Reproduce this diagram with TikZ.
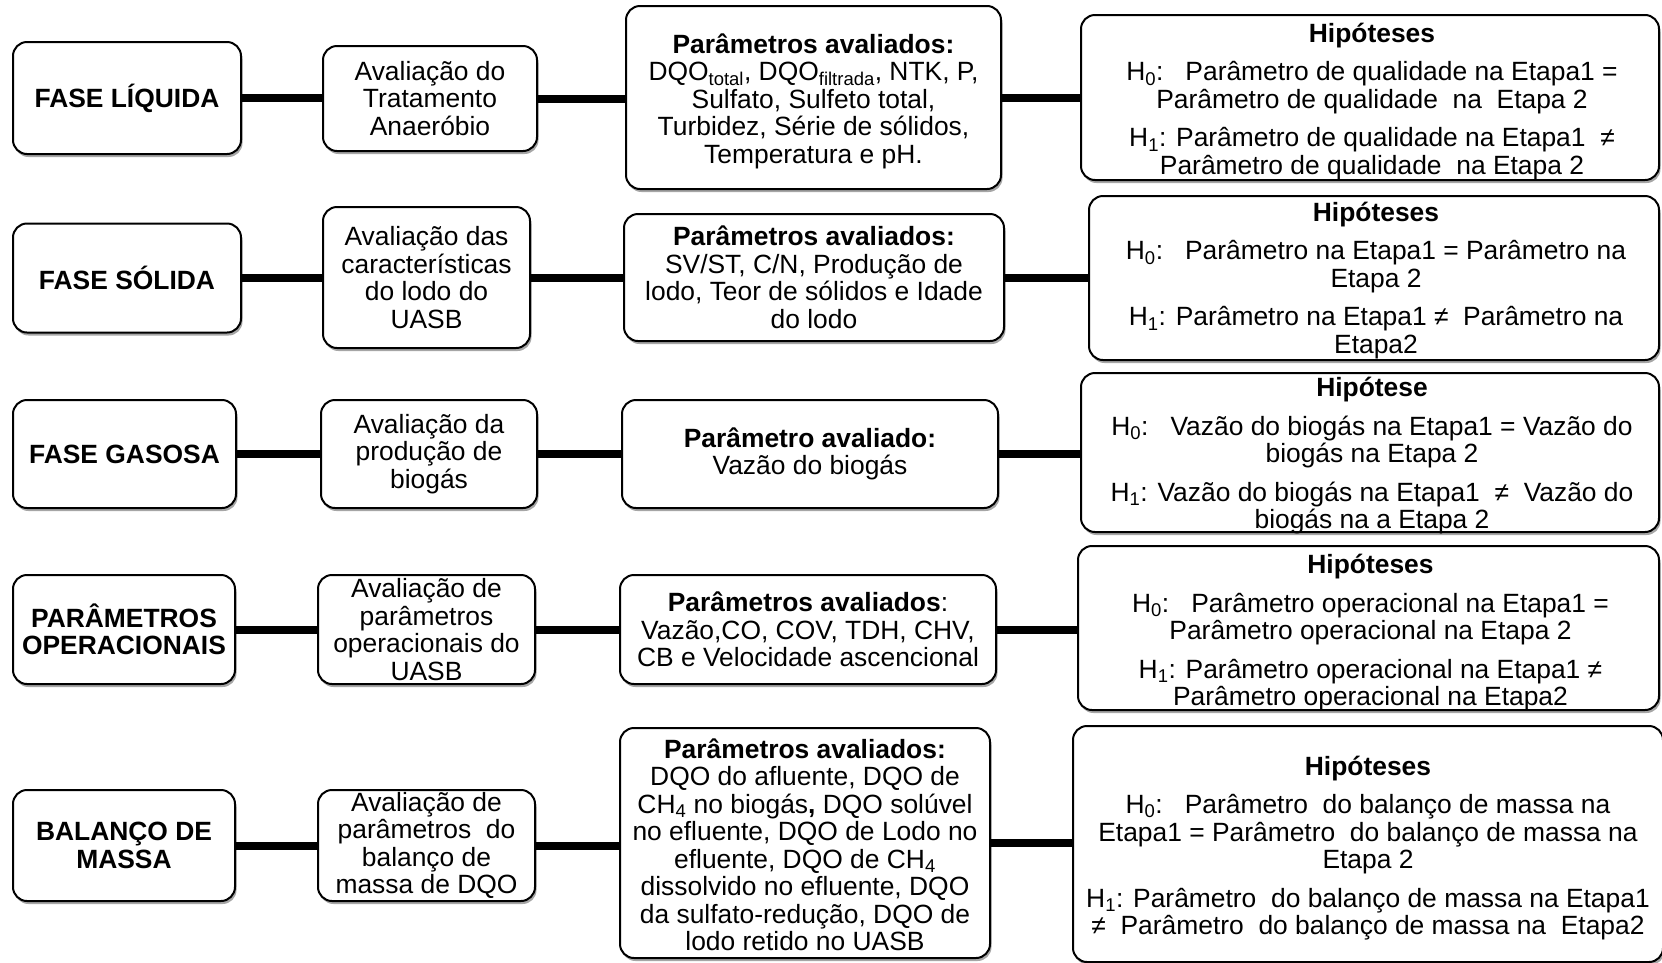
\documentclass[tikz,border=0pt]{standalone}
\usepackage{fontspec}
\setmainfont{Liberation Sans}
\usetikzlibrary{shadows}
\tikzset{
  box/.style={draw, line width=2pt, rounded corners=14pt, align=center, inner sep=0pt,
    fill=white, drop shadow={shadow xshift=1.5pt, shadow yshift=-3pt, fill=black, opacity=0.35},
    font=\fontsize{26.4}{27.5}\selectfont},
  txt/.style={align=center, inner sep=0pt, font=\fontsize{26.4}{27.5}\selectfont},
  link/.style={line width=8pt},
}
\newcommand{\hz}{H\textsubscript{0}}
\newcommand{\hu}{H\textsubscript{1}}
\begin{document}
\begin{tikzpicture}[x=1pt,y=-1pt]
\useasboundingbox (0,0) rectangle (1662,962);
% Row 1
\node[box, minimum width=228pt, minimum height=112pt] (a1) at (127,98) {\textbf{FASE LÍQUIDA}};
\node[box, minimum width=214pt, minimum height=105pt] (b1) at (430,98.5) {Avaliação do\\Tratamento\\Anaeróbio};
\node[box, minimum width=375pt, minimum height=183pt] (c1) at (813.5,97.5) {};
\node[txt] (c1t) at (813.5,101) {\textbf{Parâmetros avaliados:}\\DQO\textsubscript{total}, DQO\textsubscript{filtrada}, NTK, P,\\Sulfato, Sulfeto total,\\Turbidez, Série de sólidos,\\Temperatura e pH.};
\node[box, minimum width=578pt, minimum height=165pt] (d1) at (1370,97.5) {};
\node[txt] (d1t) at (1372,101.5) {\textbf{Hipóteses}\\[11pt]\hz:\ \ \ Parâmetro de qualidade na Etapa1 =\\Parâmetro de qualidade\ \ na\ \ Etapa 2\\[11pt]\hu: Parâmetro de qualidade na Etapa1\ \ ≠\\Parâmetro de qualidade\ \ na Etapa 2};
% Row 2
\node[box, minimum width=228pt, minimum height=109pt] (a2) at (127,278) {\textbf{FASE SÓLIDA}};
\node[box, minimum width=207pt, minimum height=141pt] (b2) at (426.5,277.5) {Avaliação das\\características\\do lodo do\\UASB};
\node[box, minimum width=380pt, minimum height=127pt] (c2) at (814,277.5) {\textbf{Parâmetros avaliados:}\\SV/ST, C/N, Produção de\\lodo, Teor de sólidos e Idade\\do lodo};
\node[box, minimum width=570pt, minimum height=164pt] (d2) at (1374,278) {};
\node[txt] (d2t) at (1376,280.5) {\textbf{Hipóteses}\\[11pt]\hz:\ \ \ Parâmetro na Etapa1 = Parâmetro na\\Etapa 2\\[11pt]\hu: Parâmetro na Etapa1 ≠\ \ Parâmetro na\\Etapa2};
% Row 3
\node[box, minimum width=223pt, minimum height=108pt] (a3) at (124.5,454) {\textbf{FASE GASOSA}};
\node[box, minimum width=216pt, minimum height=108pt] (b3) at (429,454) {Avaliação da\\produção de\\biogás};
\node[box, minimum width=376pt, minimum height=108pt] (c3) at (810,454) {\textbf{Parâmetro avaliado:}\\Vazão do biogás};
\node[box, minimum width=578pt, minimum height=159pt] (d3) at (1370,452.5) {};
\node[txt] (d3t) at (1372,456) {\textbf{Hipótese}\\[11pt]\hz:\ \ \ Vazão do biogás na Etapa1 = Vazão do\\biogás na Etapa 2\\[11pt]\hu: Vazão do biogás na Etapa1\ \ ≠\ \ Vazão do\\biogás na a Etapa 2};
% Row 4
\node[box, minimum width=222pt, minimum height=109pt] (a4) at (124,629.5) {\textbf{PARÂMETROS}\\\textbf{OPERACIONAIS}};
\node[box, minimum width=217pt, minimum height=109pt] (b4) at (426.5,629.5) {Avaliação de\\parâmetros\\operacionais do\\UASB};
\node[box, minimum width=376pt, minimum height=109pt] (c4) at (808,629.5) {\textbf{Parâmetros avaliados}:\\Vazão,CO, COV, TDH, CHV,\\CB e Velocidade ascencional};
\node[box, minimum width=581pt, minimum height=164pt] (d4) at (1368.5,628) {};
\node[txt] (d4t) at (1370.5,633) {\textbf{Hipóteses}\\[11pt]\hz:\ \ \ Parâmetro operacional na Etapa1 =\\Parâmetro operacional na Etapa 2\\[11pt]\hu: Parâmetro operacional na Etapa1 ≠\\Parâmetro operacional na Etapa2};
% Row 5
\node[box, minimum width=222pt, minimum height=111pt] (a5) at (124,845.5) {\textbf{BALANÇO DE}\\\textbf{MASSA}};
\node[box, minimum width=217pt, minimum height=111pt] (b5) at (426.5,845.5) {Avaliação de\\parâmetros\ \ do\\balanço de\\massa de DQO};
\node[box, minimum width=370pt, minimum height=230pt] (c5) at (805,843) {};
\node[txt] (c5t) at (805,845) {\textbf{Parâmetros avaliados:}\\DQO do afluente, DQO de\\CH\textsubscript{4} no biogás\textbf{,} DQO solúvel\\no efluente, DQO de Lodo no\\efluente, DQO de CH\textsubscript{4}\\dissolvido no efluente, DQO\\da sulfato-redução, DQO de\\lodo retido no UASB};
\node[box, minimum width=590pt, minimum height=236pt] (d5) at (1368,844) {};
\node[txt] (d5t) at (1368,848) {\textbf{Hipóteses}\\[11pt]\hz:\ \ \ Parâmetro\ \ do balanço de massa na\\Etapa1 = Parâmetro\ \ do balanço de massa na\\Etapa 2\\[11pt]\hu: Parâmetro\ \ do balanço de massa na Etapa1\\≠\ \ Parâmetro\ \ do balanço de massa na\ \ Etapa2};
% Connectors
\foreach \r in {1,...,5}{
  \draw[link] (a\r.east) -- (a\r.east -| b\r.west);
  \draw[link] (b\r.east) -- (b\r.east -| c\r.west);
  \draw[link] (c\r.east) -- (c\r.east -| d\r.west);
}
\end{tikzpicture}
\end{document}
